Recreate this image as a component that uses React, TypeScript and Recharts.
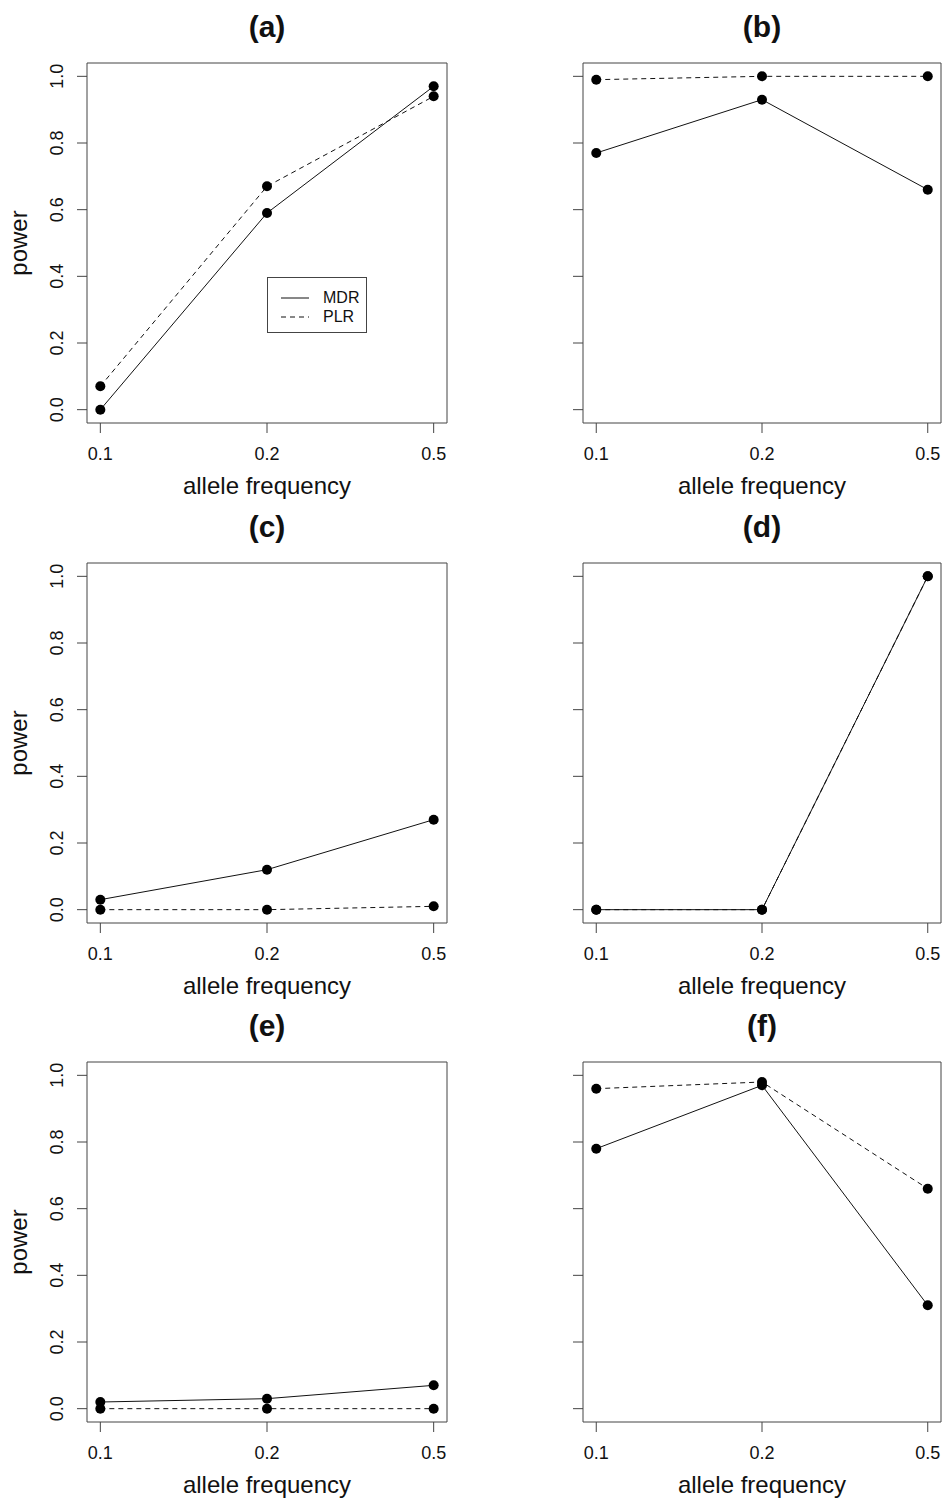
import React from "react";
import { LineChart, Line, XAxis, YAxis, Legend } from "recharts";

// allele frequencies on the x axis (equally spaced categories)
const freqLabels = ["0.1", "0.2", "0.5"];
const powerTicks = [0, 0.2, 0.4, 0.6, 0.8, 1.0];

// power of MDR / PLR per scenario
const mdrA = [0, 0.59, 0.97];
const plrA = [0.07, 0.67, 0.94];
const mdrB = [0.77, 0.93, 0.66];
const plrB = [0.99, 1.0, 1.0];
const mdrC = [0.03, 0.12, 0.27];
const plrC = [0, 0, 0.01];
const mdrD = [0, 0, 1.0];
const plrD = [0, 0, 1.0];
const mdrE = [0.02, 0.03, 0.07];
const plrE = [0, 0, 0];
const mdrF = [0.78, 0.97, 0.31];
const plrF = [0.96, 0.98, 0.66];

const FONT = '"Liberation Sans", Arial, Helvetica, sans-serif';
const INK = "#111";
const FRAME = "#444";
const DASH = "5 4";

const PANEL_W = 472;
const PANEL_H = 500;

const YTick = (props: any) => {
  const { x, y, payload } = props;
  return (
    <text
      transform={`translate(${x - 12}, ${y}) rotate(-90)`}
      textAnchor="middle"
      fontSize={18}
      fill={INK}
      fontFamily={FONT}
    >
      {Number(payload.value).toFixed(1)}
    </text>
  );
};

const NoTick = () => <g />;

const renderLegend = (props: any) => (
  <div
    style={{
      border: `1px solid ${FRAME}`,
      width: 100,
      height: 56,
      boxSizing: "border-box",
      background: "#fff",
      padding: "10px 0 0 13px",
      fontFamily: FONT,
    }}
  >
    {(props.payload || []).map((entry: any) => (
      <div key={entry.value} style={{ display: "flex", alignItems: "center", height: 19 }}>
        <svg width={28} height={4} style={{ display: "block" }}>
          <line x1={0} y1={2} x2={28} y2={2} stroke={INK} strokeWidth={1} strokeDasharray={entry.payload?.strokeDasharray} />
        </svg>
        <span style={{ marginLeft: 14, fontSize: 16, color: INK, lineHeight: "19px" }}>{entry.value}</span>
      </div>
    ))}
  </div>
);

interface PanelProps {
  title: string;
  mdr: number[];
  plr: number[];
  leftColumn: boolean;
  showLegend?: boolean;
}

function Panel({ title, mdr, plr, leftColumn, showLegend }: PanelProps) {
  const rows = freqLabels.map((f, i) => ({ pos: i + 1, freq: f, mdr: mdr[i], plr: plr[i] }));
  const yWidth = leftColumn ? 87 : 113;

  return (
    <LineChart
      width={PANEL_W}
      height={PANEL_H}
      data={rows}
      margin={{ top: 62, right: leftColumn ? 24 : 0, bottom: 0, left: 0 }}
    >
      <XAxis
        dataKey="pos"
        type="number"
        domain={[0.92, 3.08]}
        ticks={rows.map((r) => r.pos)}
        tickFormatter={(v: number) => freqLabels[v - 1]}
        height={PANEL_H - 423}
        tickSize={10}
        tickMargin={14}
        stroke={FRAME}
        tick={{ fontSize: 18, fill: INK, fontFamily: FONT }}
        label={(p: any) => {
          const vb = p.viewBox;
          return (
            <text x={vb.x + vb.width / 2} y={vb.y + 71} textAnchor="middle" fontSize={24} fill={INK} fontFamily={FONT}>
              allele frequency
            </text>
          );
        }}
      />
      <XAxis
        xAxisId="top"
        orientation="top"
        type="number"
        domain={[0, 1]}
        height={1}
        tick={false}
        tickLine={false}
        stroke={FRAME}
        label={(p: any) => {
          const vb = p.viewBox;
          return (
            <text x={vb.x + vb.width / 2} y={vb.y - 25} textAnchor="middle" fontSize={30} fontWeight="bold" fill={INK} fontFamily={FONT}>
              {title}
            </text>
          );
        }}
      />
      <YAxis
        type="number"
        domain={[-0.04, 1.04]}
        ticks={powerTicks}
        width={yWidth}
        tickSize={10}
        tickMargin={2}
        stroke={FRAME}
        tick={leftColumn ? <YTick /> : <NoTick />}
        label={
          leftColumn
            ? (p: any) => {
                const vb = p.viewBox;
                return (
                  <text
                    transform={`translate(${vb.x + 27}, ${vb.y + vb.height / 2}) rotate(-90)`}
                    textAnchor="middle"
                    fontSize={24}
                    fill={INK}
                    fontFamily={FONT}
                  >
                    power
                  </text>
                );
              }
            : undefined
        }
      />
      <YAxis
        yAxisId="right"
        orientation="right"
        type="number"
        domain={[0, 1]}
        width={1}
        tick={false}
        tickLine={false}
        stroke={FRAME}
      />
      <Line
        dataKey="mdr"
        name="MDR"
        stroke={INK}
        strokeWidth={1}
        dot={{ r: 5, fill: "#000", stroke: "none" }}
        activeDot={false}
        isAnimationActive={false}
      />
      <Line
        dataKey="plr"
        name="PLR"
        stroke={INK}
        strokeWidth={1}
        strokeDasharray={DASH}
        dot={{ r: 5, fill: "#000", stroke: "none" }}
        activeDot={false}
        isAnimationActive={false}
      />
      {showLegend && (
        <Legend
          layout="vertical"
          align="center"
          verticalAlign="middle"
          content={renderLegend}
          wrapperStyle={{ left: 267, top: 277, width: 100, height: 56 }}
        />
      )}
    </LineChart>
  );
}

const panelTops = [0, 500, 999];

export default function App() {
  return (
    <div
      style={{
        position: "absolute",
        left: 0,
        top: 0,
        width: 944,
        height: 1498,
        overflow: "hidden",
        background: "#fff",
        fontFamily: FONT,
      }}
    >
      <div style={{ position: "absolute", left: 0, top: panelTops[0] }}>
        <Panel title="(a)" mdr={mdrA} plr={plrA} leftColumn showLegend />
      </div>
      <div style={{ position: "absolute", left: 470, top: panelTops[0] }}>
        <Panel title="(b)" mdr={mdrB} plr={plrB} leftColumn={false} />
      </div>
      <div style={{ position: "absolute", left: 0, top: panelTops[1] }}>
        <Panel title="(c)" mdr={mdrC} plr={plrC} leftColumn />
      </div>
      <div style={{ position: "absolute", left: 470, top: panelTops[1] }}>
        <Panel title="(d)" mdr={mdrD} plr={plrD} leftColumn={false} />
      </div>
      <div style={{ position: "absolute", left: 0, top: panelTops[2] }}>
        <Panel title="(e)" mdr={mdrE} plr={plrE} leftColumn />
      </div>
      <div style={{ position: "absolute", left: 470, top: panelTops[2] }}>
        <Panel title="(f)" mdr={mdrF} plr={plrF} leftColumn={false} />
      </div>
    </div>
  );
}
